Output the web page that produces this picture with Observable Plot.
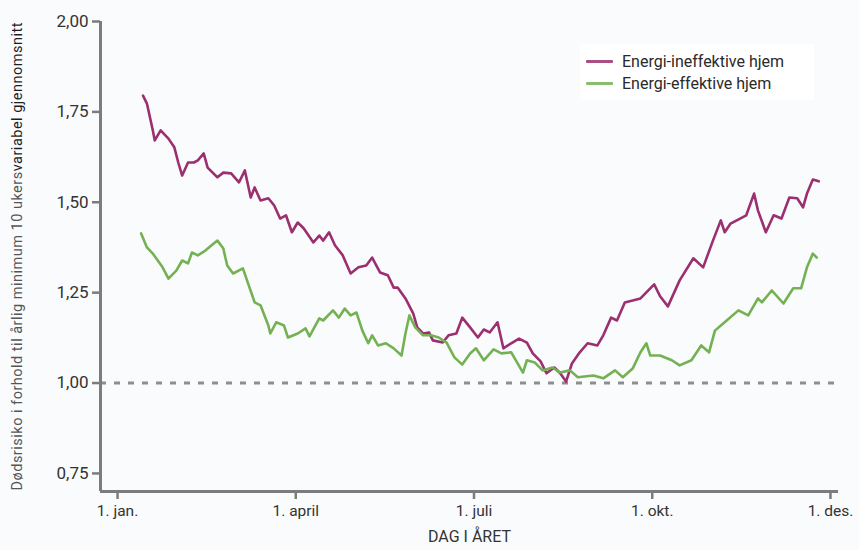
<!DOCTYPE html>
<html>
<head>
<meta charset="utf-8">
<script src="https://cdn.jsdelivr.net/npm/d3@7"></script>
<script src="https://cdn.jsdelivr.net/npm/@observablehq/plot@0.6"></script>
<style>
  body { margin: 0; background: #f9fbfc; }
  #chart { position: relative; width: 859px; height: 550px; }
  .legend { position: absolute; left: 580px; top: 44px; width: 234px; height: 56px;
            background: #ffffff; font: 16px Roboto, sans-serif; color: #2a2a2a; }
  .legend .item { position: absolute; left: 6px; height: 20px; display: flex; align-items: center; }
  .legend .swatch { width: 27px; height: 3px; margin-right: 9px; border-radius: 1px; }
</style>
</head>
<body>
<div id="chart"></div>
<script>
// Dødsrisiko gjennom året, glidende 10-ukers gjennomsnitt, relativt til årlig minimum.
// x = dag i året (aksen er delt i fire like store intervaller à 91 dager).

const seriesNames = ["Energi-ineffektive hjem", "Energi-effektive hjem"];

const ineffDays = [13, 15, 18, 19, 22, 26, 29, 31, 33, 36, 39, 41, 44, 46, 51, 54, 58, 62, 65, 68,
  70, 73, 77, 80, 83, 86, 89, 92, 95, 100, 103, 105, 108, 111, 115, 119, 123, 127, 130, 134,
  138, 141, 143, 147, 151, 153, 156, 159, 161, 166, 169, 173, 176, 180, 184, 187, 190, 194, 197, 201,
  205, 209, 212, 216, 219, 223, 226, 229, 232, 236, 240, 245, 248, 252, 255, 259, 263, 267, 274, 277,
  281, 287, 294, 299, 304, 308, 310, 313, 321, 325, 327, 331, 335, 339, 343, 347, 350, 352, 355, 358];
const ineffValues = [1.795, 1.773, 1.699, 1.671, 1.699, 1.676, 1.652, 1.610, 1.574, 1.610,
  1.610, 1.616, 1.635, 1.596, 1.569, 1.582, 1.580, 1.555, 1.588, 1.513,
  1.541, 1.505, 1.511, 1.491, 1.455, 1.464, 1.417, 1.444, 1.428, 1.389,
  1.408, 1.394, 1.417, 1.381, 1.353, 1.303, 1.320, 1.325, 1.347, 1.306,
  1.298, 1.264, 1.264, 1.234, 1.192, 1.154, 1.137, 1.140, 1.118, 1.112,
  1.132, 1.137, 1.181, 1.154, 1.126, 1.148, 1.140, 1.168, 1.096, 1.110,
  1.123, 1.112, 1.082, 1.060, 1.027, 1.043, 1.027, 1.004, 1.054, 1.085,
  1.110, 1.104, 1.132, 1.181, 1.173, 1.223, 1.228, 1.234, 1.273, 1.240,
  1.212, 1.284, 1.345, 1.320, 1.394, 1.450, 1.417, 1.441, 1.464, 1.524,
  1.477, 1.417, 1.464, 1.455, 1.513, 1.511, 1.486, 1.524, 1.563, 1.558];

const effDays = [12, 15, 18, 23, 26, 30, 33, 36, 38, 41, 45, 48, 51, 54, 56, 59, 64, 67, 70, 73,
  77, 78, 81, 85, 87, 92, 96, 98, 103, 105, 110, 113, 116, 119, 122, 125, 128, 130, 133, 137,
  141, 145, 147, 149, 152, 156, 160, 164, 168, 172, 176, 180, 183, 187, 192, 196, 201, 207, 209, 213,
  217, 222, 226, 231, 235, 243, 248, 254, 258, 263, 267, 270, 272, 277, 283, 287, 293, 298, 302, 305,
  311, 317, 322, 327, 329, 334, 340, 345, 349, 352, 355, 357];
const effValues = [1.414, 1.375, 1.358, 1.320, 1.289, 1.311, 1.339, 1.331, 1.361, 1.353,
  1.367, 1.381, 1.394, 1.372, 1.325, 1.303, 1.317, 1.270, 1.223, 1.215,
  1.159, 1.137, 1.168, 1.159, 1.126, 1.137, 1.151, 1.129, 1.179, 1.173,
  1.201, 1.181, 1.206, 1.187, 1.195, 1.145, 1.110, 1.132, 1.104, 1.110,
  1.096, 1.076, 1.137, 1.187, 1.154, 1.132, 1.132, 1.126, 1.112, 1.071,
  1.051, 1.082, 1.096, 1.063, 1.093, 1.082, 1.085, 1.029, 1.063, 1.057,
  1.035, 1.043, 1.029, 1.035, 1.016, 1.021, 1.013, 1.035, 1.016, 1.040,
  1.085, 1.110, 1.076, 1.076, 1.063, 1.049, 1.063, 1.104, 1.085, 1.145,
  1.173, 1.201, 1.187, 1.234, 1.223, 1.256, 1.220, 1.262, 1.262, 1.320,
  1.358, 1.347];

const referenceLevel = [1.0];
const yTicks = [0.75, 1.0, 1.25, 1.5, 1.75, 2.0];
const xTickDays = [0, 91, 182, 273, 364];
const xTickLabels = ["1. jan.", "1. april", "1. juli", "1. okt.", "1. des."];
const yTitleParts = ["Dødsrisiko i forhold til årlig minimum 10 ukers", "variabel gjennomsnitt"];
const xTitle = "DAG I ÅRET";

const colors = ["#9b2f6f", "#74b153"];
const axisGray = "#7c7c7c";
const xDomain = [-8.7, 368.1];
const yDomain = [0.70, 2.0];

const rows = [
  ...ineffDays.map((d, i) => ({day: d, value: ineffValues[i], series: seriesNames[0]})),
  ...effDays.map((d, i) => ({day: d, value: effValues[i], series: seriesNames[1]}))
];

const plot = Plot.plot({
  width: 859,
  height: 550,
  marginLeft: 100,
  marginRight: 21,
  marginTop: 21,
  marginBottom: 59,
  style: {background: "transparent", fontFamily: "Roboto, sans-serif", fontSize: "15px", color: "#333"},
  x: {domain: xDomain},
  y: {domain: yDomain},
  color: {domain: seriesNames, range: colors},
  marks: [
    Plot.ruleY(referenceLevel, {stroke: "#8e8e8e", strokeWidth: 3, strokeDasharray: "6,8"}),
    Plot.line(rows, {x: "day", y: "value", z: "series", stroke: "series", strokeWidth: 2.6,
      strokeLinejoin: "round", strokeLinecap: "round"}),
    Plot.axisY({ticks: yTicks, tickFormat: d => d.toFixed(2).replace(".", ","), tickSize: 8,
      tickPadding: 4, stroke: axisGray, strokeWidth: 2.5, fontSize: 17, fill: "#333", label: null}),
    Plot.axisX({ticks: xTickDays, tickFormat: d => xTickLabels[xTickDays.indexOf(d)], tickSize: 8,
      tickPadding: 5, stroke: axisGray, strokeWidth: 2.5, fontSize: 15.5, fill: "#333", label: null}),
    Plot.ruleX([xDomain[0]], {y1: yDomain[0], y2: yDomain[1], stroke: axisGray, strokeWidth: 3}),
    Plot.ruleY([yDomain[0]], {x1: xDomain[0], x2: xDomain[1], stroke: axisGray, strokeWidth: 3}),
    Plot.text([yTitleParts.join("")], {text: d => d, frameAnchor: "left", textAnchor: "middle",
      rotate: -90, dx: -83, fontSize: 14.5, fill: "#555", className: "ytitle"}),
    Plot.text([xTitle], {text: d => d, frameAnchor: "bottom", textAnchor: "middle", dy: 50,
      fontSize: 16, fill: "#333"})
  ]
});

// Two-tone y title: last part in a darker shade, stretched to the full axis height
const yt = plot.querySelector(".ytitle text");
if (yt) {
  yt.textContent = "";
  const ns = "http://www.w3.org/2000/svg";
  const a = document.createElementNS(ns, "tspan");
  a.textContent = yTitleParts[0];
  const b = document.createElementNS(ns, "tspan");
  b.textContent = yTitleParts[1];
  b.setAttribute("fill", "#1e1e1e");
  yt.append(a, b);
  yt.setAttribute("textLength", "468");
  yt.setAttribute("lengthAdjust", "spacing");
}

const chart = document.getElementById("chart");
chart.appendChild(plot);

// Legend
const legend = document.createElement("div");
legend.className = "legend";
seriesNames.forEach((name, i) => {
  const item = document.createElement("div");
  item.className = "item";
  item.style.top = (7 + i * 22) + "px";
  const sw = document.createElement("span");
  sw.className = "swatch";
  sw.style.background = colors[i];
  sw.style.opacity = "0.85";
  const label = document.createElement("span");
  label.textContent = name;
  item.append(sw, label);
  legend.appendChild(item);
});
chart.appendChild(legend);
</script>
</body>
</html>
